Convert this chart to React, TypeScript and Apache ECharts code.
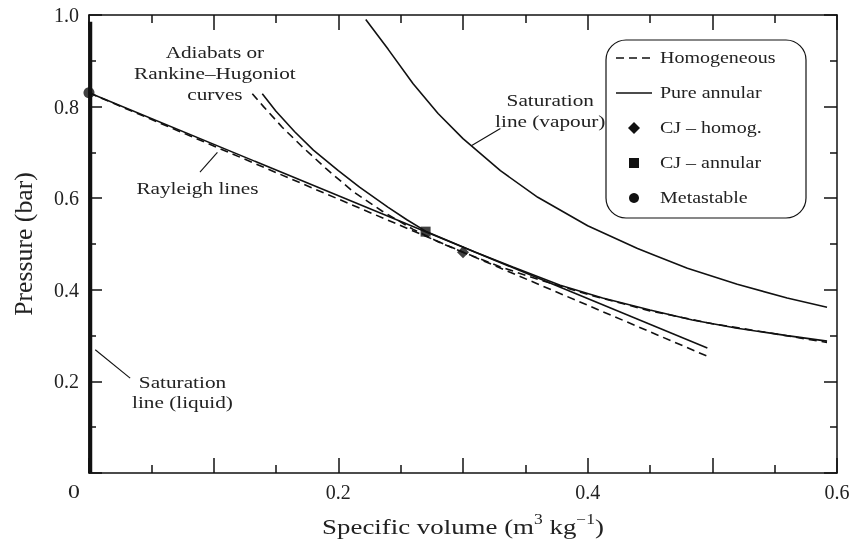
import React, { useEffect, useRef } from "react";
import * as echarts from "echarts";

// ---- data ----
const vapourLine: number[][] = [
  [0.222, 0.99], [0.24, 0.925], [0.26, 0.85], [0.28, 0.785], [0.3, 0.73],
  [0.33, 0.66], [0.36, 0.602], [0.4, 0.54], [0.44, 0.49], [0.48, 0.447],
  [0.52, 0.412], [0.56, 0.382], [0.592, 0.362],
];
const liquidLine: number[][] = [[0.001, 0], [0.001, 0.985]];
const adiabatAnnular: number[][] = [
  [0.139, 0.828], [0.15, 0.79], [0.165, 0.745], [0.18, 0.705], [0.2, 0.66],
  [0.217, 0.624], [0.24, 0.58], [0.255, 0.553], [0.27, 0.528], [0.29, 0.505],
  [0.31, 0.482], [0.34, 0.45], [0.378, 0.41], [0.412, 0.382], [0.45, 0.356],
  [0.484, 0.334], [0.52, 0.316], [0.56, 0.3], [0.592, 0.288],
];
const adiabatHomog: number[][] = [
  [0.131, 0.828], [0.14, 0.8], [0.155, 0.755], [0.17, 0.715], [0.19, 0.665],
  [0.212, 0.614], [0.235, 0.572], [0.26, 0.532], [0.28, 0.505], [0.3, 0.482],
  [0.33, 0.45], [0.36, 0.423], [0.4, 0.39], [0.45, 0.354], [0.5, 0.326],
  [0.55, 0.304], [0.592, 0.285],
];
const rayleighAnnular: number[][] = [[0, 0.83], [0.496, 0.273]];
const rayleighHomog: number[][] = [[0, 0.83], [0.496, 0.255]];
const cjHomog: number[][] = [[0.3, 0.482]];
const cjAnnular: number[][] = [[0.27, 0.527]];
const metastable: number[][] = [[0.0, 0.83]];

const rayleighLeader: number[][] = [[0.089, 0.657], [0.103, 0.7]];
const liquidLeader: number[][] = [[0.005, 0.269], [0.033, 0.207]];
const vapourLeader: number[][] = [[0.33, 0.752], [0.307, 0.715]];

const legendNames = ["Homogeneous", "Pure annular", "CJ – homog.", "CJ – annular", "Metastable"];
const annotAdiabat = { text: "Adiabats or\nRankine–Hugoniot\ncurves", at: [0.101, 0.873] };
const annotRayleigh = { text: "Rayleigh lines", at: [0.087, 0.622] };
const annotLiquid = { text: "Saturation\nline (liquid)", at: [0.075, 0.177] };
const annotVapour = { text: "Saturation\nline (vapour)", at: [0.37, 0.79] };
const xLabelValues = [0.2, 0.4, 0.6];
const yLabelValues = [0.2, 0.4, 0.6, 0.8, 1.0];

const FONT = "'Liberation Serif', 'Times New Roman', serif";
const INK = "#111";
const TXT = "#222";
const SX = 1.25;

export default function App() {
  const ref = useRef<HTMLDivElement>(null);
  useEffect(() => {
    const chart = echarts.init(ref.current!, null, { renderer: "svg" });
    const tickStyle = { color: INK, width: 1.5 };
    const baseX = {
      type: "value" as const, min: 0, max: 0.6, interval: 0.1,
      axisLine: { show: true, onZero: false, lineStyle: { color: INK, width: 1.5 } },
      axisTick: { show: true, inside: true, length: 15, lineStyle: tickStyle },
      minorTick: { show: true, splitNumber: 2, length: 8, lineStyle: tickStyle },
      splitLine: { show: false },
    };
    const baseY = {
      type: "value" as const, min: 0, max: 1.0, interval: 0.2,
      axisLine: { show: true, onZero: false, lineStyle: { color: INK, width: 1.5 } },
      axisTick: { show: true, inside: true, length: 13, lineStyle: tickStyle },
      minorTick: { show: true, splitNumber: 2, length: 7, lineStyle: tickStyle },
      splitLine: { show: false },
    };
    const lbl = { fontFamily: FONT, fontSize: 20, color: TXT };
    const lineSeries = (name: string, data: number[][], width = 1.6, dashed = false) => ({
      name, type: "line", data, symbol: "none", clip: false, silent: true,
      lineStyle: { color: INK, width, type: dashed ? [8, 5] : "solid" },
    });
    chart.setOption({
      animation: false,
      grid: { left: 89, right: 17, top: 15, bottom: 73 },
      xAxis: [
        {
          ...baseX, position: "bottom",
          axisLabel: {
            ...lbl, margin: 9,
            formatter: (v: number) => {
              const hit = xLabelValues.find((t) => Math.abs(t - v) < 1e-6);
              return hit !== undefined ? hit.toFixed(1) : "";
            },
          },
        },
        { ...baseX, position: "top", axisLabel: { show: false } },
      ],
      yAxis: [
        {
          ...baseY, position: "left",
          axisLabel: {
            ...lbl, margin: 10,
            formatter: (v: number) => {
              const hit = yLabelValues.find((t) => Math.abs(t - v) < 1e-6);
              return hit !== undefined ? hit.toFixed(1) : "";
            },
          },
        },
        { ...baseY, position: "right", axisLabel: { show: false } },
      ],
      series: [
        lineSeries("Saturation liquid", liquidLine, 4),
        lineSeries("Saturation vapour", vapourLine),
        lineSeries("Pure annular", adiabatAnnular),
        lineSeries("Homogeneous", adiabatHomog, 1.6, true),
        lineSeries("Rayleigh annular", rayleighAnnular),
        lineSeries("Rayleigh homog", rayleighHomog, 1.6, true),
        lineSeries("Leader rayleigh", rayleighLeader, 1.1),
        lineSeries("Leader liquid", liquidLeader, 1.1),
        lineSeries("Leader vapour", vapourLeader, 1.1),
        { name: "CJ – homog.", type: "scatter", data: cjHomog, symbol: "diamond", symbolSize: 12, clip: false, itemStyle: { color: INK } },
        { name: "CJ – annular", type: "scatter", data: cjAnnular, symbol: "rect", symbolSize: 10, clip: false, itemStyle: { color: INK } },
        { name: "Metastable", type: "scatter", data: metastable, symbol: "circle", symbolSize: 11, clip: false, itemStyle: { color: INK } },
      ],
    });

    const px = (p: number[]) => chart.convertToPixel({ xAxisIndex: 0, yAxisIndex: 0 }, p) as number[];
    const txt = (s: string, p: number[], size = 17, lh = 21) => ({
      type: "text", x: p[0], y: p[1], scaleX: SX, silent: true,
      style: { text: s, x: 0, y: 0, align: "center", verticalAlign: "middle", font: `${size}px ${FONT}`, fill: TXT, lineHeight: lh },
    });

    // legend (drawn)
    const L = { left: 606, top: 40, width: 200, height: 178, rowY0: 58, rowGap: 35, sx0: 616, sx1: 652, tx: 660 };
    const legendItems: any[] = [
      { type: "rect", shape: { x: L.left, y: L.top, width: L.width, height: L.height, r: 20 }, style: { fill: "none", stroke: INK, lineWidth: 1.2 } },
    ];
    legendNames.forEach((n, i) => {
      const y = L.rowY0 + i * L.rowGap;
      const cx = (L.sx0 + L.sx1) / 2;
      if (i === 0) legendItems.push({ type: "line", shape: { x1: L.sx0, y1: y, x2: L.sx1, y2: y }, style: { stroke: INK, lineWidth: 1.6, lineDash: [8, 5] } });
      if (i === 1) legendItems.push({ type: "line", shape: { x1: L.sx0, y1: y, x2: L.sx1, y2: y }, style: { stroke: INK, lineWidth: 1.6 } });
      if (i === 2) legendItems.push({ type: "polygon", shape: { points: [[cx, y - 6], [cx + 6, y], [cx, y + 6], [cx - 6, y]] }, style: { fill: INK } });
      if (i === 3) legendItems.push({ type: "rect", shape: { x: cx - 5, y: y - 5, width: 10, height: 10 }, style: { fill: INK } });
      if (i === 4) legendItems.push({ type: "circle", shape: { cx, cy: y, r: 5 }, style: { fill: INK } });
      legendItems.push({
        type: "text", x: L.tx, y, scaleX: SX,
        style: { text: n, x: 0, y: 0, align: "left", verticalAlign: "middle", font: `16px ${FONT}`, fill: TXT },
      });
    });

    chart.setOption({
      graphic: [
        txt(annotAdiabat.text, px(annotAdiabat.at)),
        txt(annotRayleigh.text, px(annotRayleigh.at)),
        txt(annotLiquid.text, px(annotLiquid.at), 17, 20),
        txt(annotVapour.text, px(annotVapour.at), 17, 21),
        { type: "text", x: 74, y: 492, scaleX: SX, style: { text: "0", x: 0, y: 0, align: "center", verticalAlign: "middle", font: `19px ${FONT}`, fill: TXT } },
        {
          type: "text", x: 463, y: 526, scaleX: SX,
          style: {
            text: "{a|Specific volume (m}{s|3}{a| kg}{s|−1}{a|)}", x: 0, y: 0, align: "center", verticalAlign: "middle",
            rich: { a: { fontFamily: FONT, fontSize: 21.5, fill: TXT, lineHeight: 28 }, s: { fontFamily: FONT, fontSize: 14, fill: TXT, verticalAlign: "top", lineHeight: 28 } },
          },
        },
        {
          type: "text", x: 24, y: 244, rotation: Math.PI / 2, scaleX: 1.12, scaleY: 1.1,
          style: { text: "Pressure (bar)", x: 0, y: 0, align: "center", verticalAlign: "middle", font: `23px ${FONT}`, fill: TXT },
        },
        ...legendItems,
      ],
    });
    return () => chart.dispose();
  }, []);
  return <div ref={ref} style={{ position: "fixed", left: 0, top: 0, width: 854, height: 546 }} />;
}
